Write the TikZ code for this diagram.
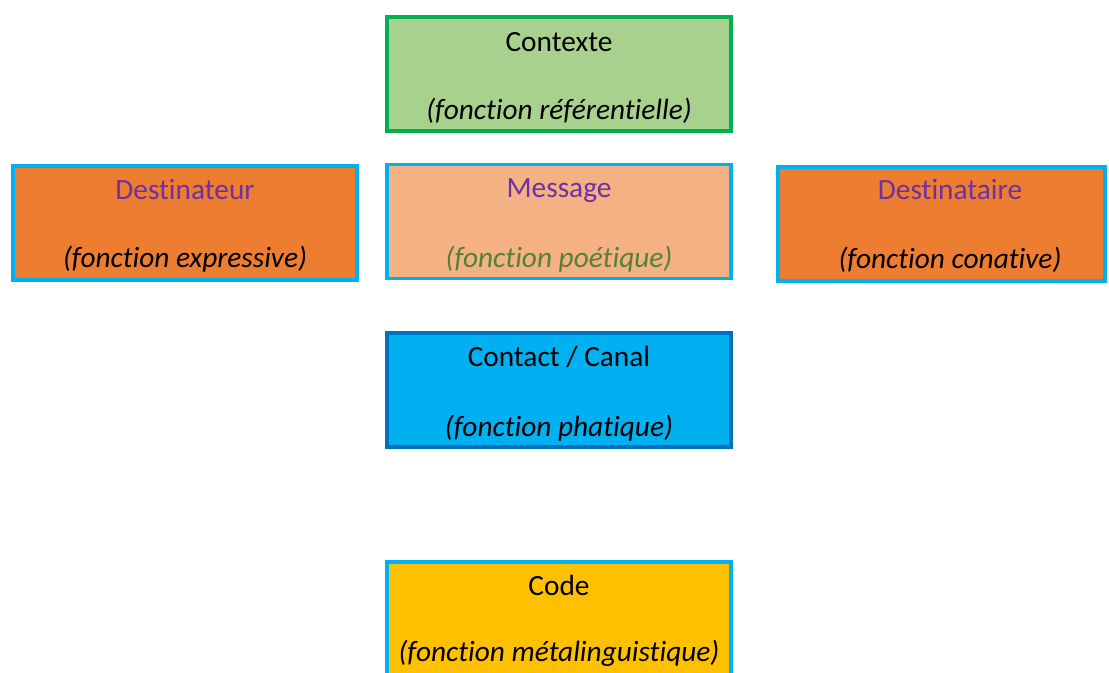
\documentclass[tikz,border=0pt]{standalone}
\usepackage{fontspec}
\setmainfont{Carlito}[Ligatures={NoCommon,NoDiscretionary,NoRare}]
\definecolor{ctxfill}{HTML}{A9D18E}
\definecolor{ctxdraw}{HTML}{00B050}
\definecolor{orangefill}{HTML}{ED7D31}
\definecolor{lightorange}{HTML}{F4B183}
\definecolor{cyanblue}{HTML}{00B0F0}
\definecolor{darkblue}{HTML}{0070C0}
\definecolor{gold}{HTML}{FFC000}
\definecolor{purpletxt}{HTML}{7030A0}
\definecolor{greentxt}{HTML}{548235}
\begin{document}
\begin{tikzpicture}[x=0.75pt,y=-0.75pt,
  box/.style={draw, line width=2.6pt, inner sep=0pt, minimum width=258pt, minimum height=85.5pt},
  ttl/.style={anchor=base, inner sep=0pt, font=\fontsize{22}{26}\selectfont},
  fn/.style={anchor=base, inner sep=0pt, font=\fontsize{22}{26}\selectfont\itshape}]
\useasboundingbox (0,0) rectangle (1109,673);
\clip (0,0) rectangle (1109,673);
% boxes
\node[box, fill=ctxfill, draw=ctxdraw] (ctx) at (559,74) {};
\node[box, fill=orangefill, draw=cyanblue] (src) at (185,223) {};
\node[box, fill=lightorange, draw=cyanblue] (msg) at (559,221.5) {};
\node[box, fill=orangefill, draw=cyanblue, minimum width=245pt] (dst) at (941.5,224) {};
\node[box, fill=cyanblue, draw=darkblue] (cnt) at (559,390) {};
\node[box, fill=gold, draw=cyanblue] (cod) at (559,619) {};
% texts
\node[ttl] (ctxT) at (559,52) {Contexte};
\node[fn] (ctxF) at (559,120) {(fonction référentielle)};
\node[ttl, text=purpletxt] (srcT) at (185,200) {Destinateur};
\node[fn] (srcF) at (185,268) {(fonction expressive)};
\node[ttl, text=purpletxt] (msgT) at (559,198) {Message};
\node[fn, text=greentxt] (msgF) at (559,268) {(fonction poétique)};
\node[ttl, text=purpletxt] (dstT) at (950,200) {Destinataire};
\node[fn] (dstF) at (950,269) {(fonction conative)};
\node[ttl] (cntT) at (559,366) {Contact / Canal};
\node[fn] (cntF) at (559,436) {(fonction phatique)};
\node[ttl] (codT) at (559,595) {Code};
\node[fn] (codF) at (559,661) {(fonction métalinguistique)};
\end{tikzpicture}
\end{document}
